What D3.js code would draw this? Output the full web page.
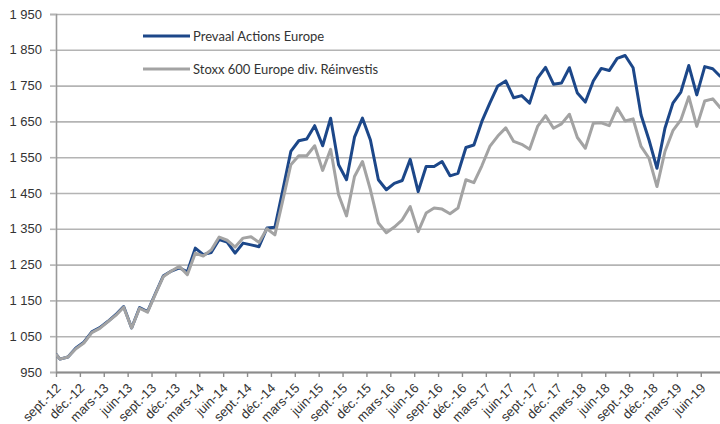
<!DOCTYPE html>
<html>
<head>
<meta charset="utf-8">
<script src="https://cdn.jsdelivr.net/npm/d3@7"></script>
<style>
  body { margin: 0; background: #fff; }
  svg { display: block; font-family: Lato, "Noto Sans", sans-serif; }
  .axis text { fill: #333; font-size: 13px; }
</style>
</head>
<body>
<div id="chart"></div>
<script>
const width = 720;
const height = 424;

// series names
const seriesNames = ["Prevaal Actions Europe", "Stoxx 600 Europe div. Réinvestis"];

// monthly values, sept-12 to sept-19
const prevaal = [1000, 986, 992, 1017, 1033, 1062, 1074, 1091, 1110, 1133,
  1073, 1130, 1119, 1170, 1219, 1232, 1241, 1230, 1296, 1278,
  1284, 1320, 1313, 1282, 1310, 1305, 1300, 1352, 1354, 1459,
  1566, 1596, 1601, 1638, 1582, 1659, 1529, 1487, 1606, 1659,
  1598, 1487, 1459, 1477, 1485, 1544, 1454, 1524, 1524, 1538,
  1498, 1505, 1577, 1584, 1650, 1701, 1749, 1763, 1716, 1722,
  1701, 1771, 1801, 1754, 1757, 1800, 1729, 1704, 1763, 1798,
  1792, 1826, 1834, 1800, 1668, 1598, 1519, 1631, 1701, 1732,
  1806, 1724, 1803, 1797, 1775];

const stoxx = [1000, 986, 992, 1015, 1031, 1060, 1072, 1090, 1108, 1131,
  1073, 1128, 1117, 1168, 1217, 1232, 1245, 1222, 1282, 1274,
  1291, 1327, 1318, 1299, 1324, 1328, 1312, 1350, 1333, 1430,
  1529, 1554, 1554, 1582, 1513, 1572, 1445, 1386, 1496, 1538,
  1459, 1366, 1339, 1355, 1375, 1412, 1342, 1394, 1408, 1405,
  1392, 1408, 1487, 1479, 1526, 1580, 1609, 1632, 1594, 1586,
  1572, 1636, 1666, 1631, 1643, 1670, 1605, 1575, 1645, 1646,
  1638, 1688, 1651, 1657, 1580, 1547, 1468, 1566, 1624, 1654,
  1719, 1636, 1707, 1713, 1687];

// x tick labels, one every 3 months
const xTickLabels = ["sept.-12", "déc.-12", "mars-13", "juin-13", "sept.-13", "déc.-13",
  "mars-14", "juin-14", "sept.-14", "déc.-14", "mars-15", "juin-15", "sept.-15", "déc.-15",
  "mars-16", "juin-16", "sept.-16", "déc.-16", "mars-17", "juin-17", "sept.-17", "déc.-17",
  "mars-18", "juin-18", "sept.-18", "déc.-18", "mars-19", "juin-19"];

const yTicks = [950, 1050, 1150, 1250, 1350, 1450, 1550, 1650, 1750, 1850, 1950];

const colors = ["#1c4789", "#a3a3a3"];

// layout
const marginLeft = 56, plotTop = 14, plotBottom = 372;
const monthWidth = 7.96;

const svg = d3.select("#chart")
  .append("svg")
  .attr("width", width)
  .attr("height", height);

const x = d3.scaleLinear()
  .domain([0, 84])
  .range([marginLeft, marginLeft + 84 * monthWidth]);

const y = d3.scaleLinear()
  .domain([950, 1950])
  .range([plotBottom, plotTop]);

// points sit mid-month, first one on the axis
const monthPos = (d, i) => i === 0 ? 0 : i - 0.5;

//Gridlines
svg.append("g")
  .attr("class", "grid")
  .attr("transform", "translate(" + marginLeft + ",0)")
  .call(d3.axisLeft(y).tickValues(yTicks).tickSize(-(width - marginLeft)).tickFormat(""))
  .call(g => g.select(".domain").remove())
  .call(g => g.selectAll("line").attr("stroke", "#b4b4b4").attr("stroke-width", 1.6));

//Y axis
svg.append("g")
  .attr("class", "axis")
  .attr("transform", "translate(" + marginLeft + ",0)")
  .call(d3.axisLeft(y).tickValues(yTicks).tickSize(6).tickPadding(8)
    .tickFormat(d => d3.format(",")(d).replace(",", " ")))
  .call(g => g.select(".domain").attr("stroke", "#9a9a9a").attr("stroke-width", 1.6))
  .call(g => g.selectAll("line").attr("stroke", "#b4b4b4").attr("stroke-width", 1.6));

//X axis
const xTickValues = xTickLabels.map((d, i) => i * 3);
svg.append("g")
  .attr("class", "axis")
  .attr("transform", "translate(0," + plotBottom + ")")
  .call(d3.axisBottom(x).tickValues(xTickValues).tickSize(5).tickSizeOuter(0)
    .tickFormat((d, i) => xTickLabels[i]))
  .call(g => g.select(".domain").attr("stroke", "#8c8c8c").attr("stroke-width", 2.2))
  .call(g => g.selectAll("line").attr("stroke", "#8c8c8c").attr("stroke-width", 1.4))
  .call(g => g.selectAll("text")
    .attr("text-anchor", "end")
    .attr("y", 0)
    .attr("dy", 0)
    .attr("transform", "translate(5,17) rotate(-45)"));

// clip lines to the plot
svg.append("clipPath")
  .attr("id", "plot-clip")
  .append("rect")
  .attr("x", marginLeft)
  .attr("y", 0)
  .attr("width", width - marginLeft)
  .attr("height", height);

const line = d3.line()
  .x((d, i) => x(monthPos(d, i)))
  .y(d => y(d));

// blue first, grey drawn on top
[prevaal, stoxx].forEach((values, s) => {
  svg.append("path")
    .datum(values)
    .attr("clip-path", "url(#plot-clip)")
    .attr("fill", "none")
    .attr("stroke", colors[s])
    .attr("stroke-width", 3)
    .attr("stroke-linejoin", "round")
    .attr("d", line);
});

//Legend
const legend = svg.append("g");
seriesNames.forEach((name, i) => {
  const ly = 36 + i * 33;
  legend.append("line")
    .attr("x1", 143).attr("x2", 190)
    .attr("y1", ly).attr("y2", ly)
    .attr("stroke", colors[i])
    .attr("stroke-width", 3.2);
  legend.append("text")
    .attr("x", 193)
    .attr("y", ly)
    .attr("dy", "0.35em")
    .attr("fill", "#333")
    .attr("font-size", 13)
    .text(name);
});
</script>
</body>
</html>
